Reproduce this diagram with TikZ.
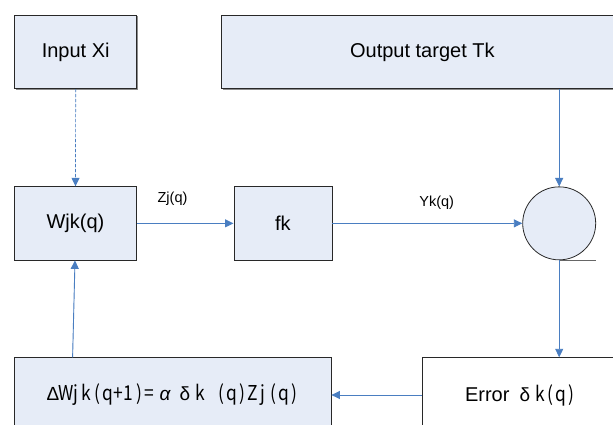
\documentclass[tikz,border=0pt]{standalone}
\usepackage{fontspec}
\setmainfont{Liberation Sans}
\newfontfamily\gothic[FakeStretch=0.85]{Noto Sans CJK JP}
\newfontfamily\greekfont{Liberation Sans}
\usetikzlibrary{arrows.meta,calc,shadows}
\definecolor{boxfill}{RGB}{230,236,247}
\definecolor{arrowblue}{RGB}{74,126,193}
\definecolor{edgegray}{RGB}{40,40,40}
\newcommand{\hc}[1]{\makebox[10.5pt][c]{#1}}
\newcommand{\fc}[1]{\makebox[20pt][c]{{\greekfont\fontsize{19}{24}\selectfont #1}}}
\begin{document}
\begin{tikzpicture}[x=1pt,y=-1pt,
  boxstyle/.style={draw=edgegray, line width=0.8pt, fill=boxfill, inner sep=0pt,
    font=\fontsize{20}{24}\selectfont,
    drop shadow={shadow xshift=0.9pt, shadow yshift=-0.9pt, fill=black!45, opacity=1}},
  conn/.style={draw=arrowblue, line width=0.9pt, -{Triangle[length=8.5pt,width=8pt]}, fill=arrowblue},
  lbl/.style={inner sep=0pt, font=\fontsize{14.5}{17}\selectfont}]
\useasboundingbox (0,0) rectangle (613,425);
% top row
\node[boxstyle, minimum width=122pt, minimum height=73.7pt] (in) at (75.7,51.85) {Input Xi};
\node[boxstyle, minimum width=401.3pt, minimum height=73.7pt] (out) at (422.35,51.85) {Output target Tk};
% middle row
\node[boxstyle, minimum width=121.7pt, minimum height=73.3pt] (wjk) at (75.5,223.35) {Wjk(q)};
\node[boxstyle, minimum width=98pt, minimum height=73.3pt] (fk) at (282.9,223.35) {fk};
\node[circle, draw=edgegray, line width=0.8pt, fill=boxfill, minimum size=73pt, inner sep=0pt] (c) at (559.2,223.35) {};
% bottom row
\node[boxstyle, minimum width=316.5pt, minimum height=74.6pt] (dw) at (172.75,395)
  {\gothic\fontsize{20.5}{24}\selectfont\makebox[15pt][c]{{\greekfont\fontsize{19}{24}\selectfont Δ}}\hc{W}\hc{j}\hc{k}\hc{(}\hc{q}\hc{+}\hc{1}\hc{)}\hc{=}\fc{\itshape α}\fc{δ}\hc{k}\hc{}\hc{(}\hc{q}\hc{)}\hc{Z}\hc{j}\hc{(}\hc{q}\hc{)}};
\node[boxstyle, fill=white, minimum width=197.4pt, minimum height=74.6pt] (err) at (521,395)
  {Error {\gothic\fontsize{20.5}{24}\selectfont\fc{δ}\hc{k}\hc{(}\hc{q}\hc{)}}};
% labels
\node[lbl] (zj) at (172.5,198.5) {Zj(q)};
\node[lbl] (yk) at (436.7,202.5) {Yk(q)};
% connectors
\draw[conn, dash pattern=on 3pt off 2pt, line width=0.7pt] (in.south) -- (wjk.north);
\draw[conn] (c.north |- out.south) -- (c.north);
\draw[conn] (wjk.east) -- (fk.west);
\draw[conn] (fk.east) -- (c.west);
\draw[draw=black!60, line width=1.2pt] (c.south) -- (c.south -| c.east);
\draw[conn] (c.south) -- (c.south |- err.north);
\draw[conn] (err.west) -- (dw.east);
\draw[conn] ([xshift=58.5pt]dw.north west) -- ([xshift=60.75pt]wjk.south west);
\end{tikzpicture}
\end{document}
